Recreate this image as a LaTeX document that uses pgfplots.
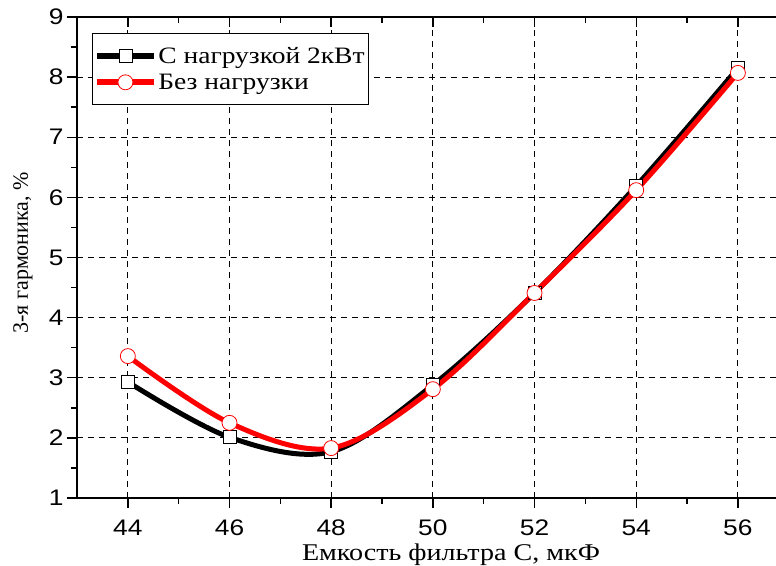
\documentclass[border=0pt]{standalone}
\usepackage{fontspec}
\setmainfont{Liberation Serif}[FakeStretch=1.17]
\newfontfamily\serifplain{Liberation Serif}
\newfontfamily\arial{Liberation Sans}[FakeStretch=1.17]
\usepackage{pgfplots}
\pgfplotsset{compat=1.18}
\begin{document}
\begin{tikzpicture}
\pgfplotsset{
    common/.style={
        scale only axis,
        width=699pt, height=481pt,
        xmin=43, xmax=56.75,
        ymin=1, ymax=9,
        xtick={44,46,...,56},
        ytick={1,2,...,9},
        minor x tick num=1,
        minor y tick num=1,
        axis line style={line width=1.4pt},
        major tick length=10pt,
        minor tick length=6pt,
        every tick/.style={black, line width=1.4pt},
    }
}
\useasboundingbox (-77pt,-67pt) rectangle (699pt,498pt);
% top axis line with inward ticks
\begin{axis}[common,
    axis x line*=top,
    axis y line=none,
    tick align=inside,
    xticklabels={},
]
\end{axis}
\begin{axis}[common,
    axis y line*=left,
    xtick pos=bottom,
    tick align=outside,
    grid=major,
    grid style={black, dashed, line width=1pt, dash pattern=on 6pt off 5pt},
    /pgf/number format/assume math mode=true,
    tick label style={font=\arial\fontsize{22.5}{22.5}\selectfont},
    xticklabel style={yshift=-8pt},
    xlabel={Емкость фильтра С, мкФ},
    ylabel={3-я гармоника, \%},
    xlabel style={font=\fontsize{24}{24}\selectfont,
        at={(axis description cs:0.535,-0.1289)}, anchor=base},
    ylabel style={font=\serifplain\fontsize{22}{22}\selectfont,
        at={(axis description cs:-0.0701,0.51)}, anchor=base},
    legend style={at={(rel axis cs:0.0215,0.967)}, anchor=north west,
        draw=black, line width=0.8pt, font=\fontsize{23.5}{28}\selectfont,
        inner xsep=2pt, inner ysep=12pt, row sep=5pt},
    legend cell align=left,
    legend image code/.code={\draw[mark repeat=2, mark phase=2, #1, line width=6pt]
        plot coordinates {(0pt,0pt) (28pt,0pt) (56pt,0pt)};},
]
\addplot[black, line width=5pt, smooth, tension=0.55,
    mark=square*, mark size=6.5pt,
    mark options={fill=white, draw=black, line width=0.8pt, solid}]
coordinates {
    (44, 2.93) (46, 2.01) (48, 1.77) (50, 2.88)
    (52, 4.41) (54, 6.19) (56, 8.15)
};
\addlegendentry{С нагрузкой 2кВт}
\addplot[red, line width=5pt, smooth, tension=0.55,
    mark=*, mark size=7.5pt,
    mark options={fill=white, draw=red, line width=0.8pt, solid}]
coordinates {
    (44, 3.36) (46, 2.25) (48, 1.83) (50, 2.81)
    (52, 4.41) (54, 6.12) (56, 8.07)
};
\addlegendentry{Без нагрузки}
\end{axis}
\end{tikzpicture}
\end{document}
